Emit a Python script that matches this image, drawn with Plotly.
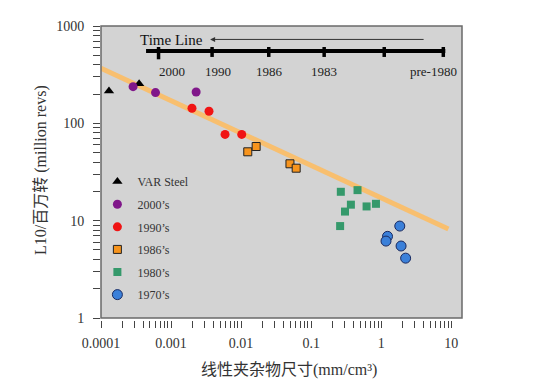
import plotly.graph_objects as go

# ---------------- data ----------------
var_x = [1.3e-4, 3.5e-4]
var_y = [215, 255]

s2000_x = [2.87e-4, 6.0e-4, 2.28e-3]
s2000_y = [238, 207, 210]

s1990_x = [1.99e-3, 3.48e-3, 5.9e-3, 0.0102]
s1990_y = [143, 133, 77, 77]

s1986_x = [0.01245, 0.0164, 0.0498, 0.0611]
s1986_y = [51, 57.8, 38.4, 34.6]

s1980_x = [0.265, 0.459, 0.304, 0.369, 0.618, 0.841, 0.259]
s1980_y = [19.8, 20.6, 12.4, 14.6, 14.0, 14.9, 8.8]

s1970_x = [1.84, 1.23, 1.17, 1.92, 2.23]
s1970_y = [8.8, 6.9, 6.17, 5.49, 4.12]

fit_x = [1e-4, 9.1]
fit_y = [368, 8.2]

x_tickvals = [1e-4, 1e-3, 1e-2, 1e-1, 1, 10]
x_ticktext = ["0.0001", "0.001", "0.01", "0.1", "1", "10"]
y_tickvals = [1, 10, 100, 1000]
y_ticktext = ["1", "10", "100", "1000"]

timeline_labels = ["2000", "1990", "1986", "1983", "pre-1980"]

SERIF = "Liberation Serif, Times New Roman, Noto Sans CJK SC, serif"
MIXED = "Liberation Serif, Noto Sans CJK SC, serif"

fig = go.Figure()

fig.add_trace(go.Scatter(x=fit_x, y=fit_y, mode="lines",
                         line=dict(color="rgba(250,190,105,0.95)", width=5),
                         showlegend=False, hoverinfo="skip"))

series = [
    ("VAR Steel", var_x, var_y, dict(symbol="triangle-up", size=9, color="black")),
    ("2000’s", s2000_x, s2000_y, dict(symbol="circle", size=9, color="#80178a")),
    ("1990’s", s1990_x, s1990_y, dict(symbol="circle", size=9, color="#f01414")),
    ("1986’s", s1986_x, s1986_y, dict(symbol="square", size=8, color="#f7941d",
                                        line=dict(color="#222", width=1))),
    ("1980’s", s1980_x, s1980_y, dict(symbol="square", size=8, color="#35996b")),
    ("1970’s", s1970_x, s1970_y, dict(symbol="circle", size=10, color="#3b80d9",
                                        line=dict(color="#1a2a60", width=1))),
]
for i, (name, xs, ys, mk) in enumerate(series):
    fig.add_trace(go.Scatter(x=xs, y=ys, mode="markers", name=name,
                             marker=mk, legendgroup="g%d" % i))

# full tick sets (decades labelled, 2..9 multiples unlabelled)
x_all, x_all_txt = [], []
for e in range(-4, 2):
    for m in range(1, 10):
        v = m * 10.0 ** e
        if v > 10.5:
            break
        x_all.append(v)
        x_all_txt.append(x_ticktext[x_tickvals.index(10.0 ** e)] if m == 1 else "")
y_all, y_all_txt = [], []
for e in range(0, 4):
    for m in range(1, 10):
        v = m * 10.0 ** e
        if v > 1000.5:
            break
        y_all.append(v)
        y_all_txt.append(y_ticktext[y_tickvals.index(10 ** e)] if m == 1 else "")

# the page body has an 8px margin, so the figure is drawn 8px smaller / shifted
W, H = 536, 380
L, R, T, B = 93, 82, 18, 68
plot_h = H - T - B
plot_w = W - L - R

fig.update_layout(
    width=W, height=H,
    margin=dict(l=L, r=R, t=T, b=B, pad=0),
    paper_bgcolor="white",
    plot_bgcolor="#d3d3d3",
    font=dict(family=SERIF, color="#333"),
    xaxis=dict(type="log", range=[-4.0, 1.153], anchor="free", position=0,
               tickmode="array", tickvals=x_all, ticktext=x_all_txt,
               ticks="outside", ticklen=7, tickwidth=1, tickcolor="#444",
               showgrid=False, zeroline=False, showline=False,
               tickfont=dict(size=14, family=SERIF, color="#333"),
               ticklabelstandoff=3),
    yaxis=dict(type="log", range=[0, 3], domain=[2 / plot_h, 1],
               tickmode="array", tickvals=y_all, ticktext=y_all_txt,
               ticks="outside", ticklen=7, tickwidth=1, tickcolor="#444",
               showgrid=False, zeroline=False, showline=False,
               tickfont=dict(size=14, family=SERIF, color="#333"),
               ticklabelstandoff=6),
    legend=dict(x=-0.01, y=0.52, xanchor="left", yanchor="top",
                bgcolor="rgba(0,0,0,0)", borderwidth=0,
                font=dict(size=12, family=SERIF, color="#333"),
                tracegroupgap=3.6, itemsizing="trace"),
    showlegend=True,
)

# plot frame
fig.add_shape(type="rect", xref="x domain", yref="y domain", x0=0, x1=1, y0=0, y1=1,
              line=dict(color="#6a6a6a", width=1.5), layer="above")

# timeline bar and ticks
fig.add_shape(type="line", xref="x domain", yref="y domain",
              x0=0.1248, x1=0.9537, y0=0.9144, y1=0.9144,
              line=dict(color="black", width=4))
tick_fx = [0.1594, 0.3077, 0.4647, 0.6182, 0.7846, 0.9482]
for k, fx in enumerate(tick_fx):
    fig.add_shape(type="line", xref="x domain", yref="y domain",
                  x0=fx, x1=fx, y0=0.928, y1=0.886 if k == 0 else 0.894,
                  line=dict(color="black", width=3.5))

label_fx = [0.196, 0.3252, 0.4666, 0.619, 0.9213]
for fx, txt in zip(label_fx, timeline_labels):
    fig.add_annotation(xref="x domain", yref="y domain", x=fx, y=0.8435,
                       xanchor="center", yanchor="middle",
                       text=txt, showarrow=False,
                       font=dict(size=13, family=SERIF, color="#222"))

fig.add_annotation(xref="x domain", yref="y domain", x=0.196, y=0.953,
                   xanchor="center", yanchor="middle",
                   text="Time Line", showarrow=False,
                   font=dict(size=15, family=SERIF, color="#111"))
fig.add_annotation(xref="x domain", yref="y domain", x=0.3022, y=0.954,
                   ax=215, ay=0, axref="pixel", ayref="pixel", text="",
                   showarrow=True, arrowhead=2, arrowsize=1, arrowwidth=1,
                   arrowcolor="#333")

# axis titles (positions given in reference-pixel terms, minus the 8px page offset)
fig.add_annotation(xref="paper", yref="paper", x=(41 - 8 - L) / plot_w,
                   y=(H - B - (170 - 8)) / plot_h, text="L10/百万转 (million revs)",
                   textangle=-90, showarrow=False, xanchor="center", yanchor="middle",
                   font=dict(size=16, family=MIXED, color="#333"))
fig.add_annotation(xref="paper", yref="paper", x=(289 - 8 - L) / plot_w,
                   y=(H - B - (369.6 - 8)) / plot_h, text="线性夹杂物尺寸(mm/cm³)",
                   showarrow=False, xanchor="center", yanchor="middle",
                   font=dict(size=16, family=MIXED, color="#333"))

fig.write_html("out.html")
